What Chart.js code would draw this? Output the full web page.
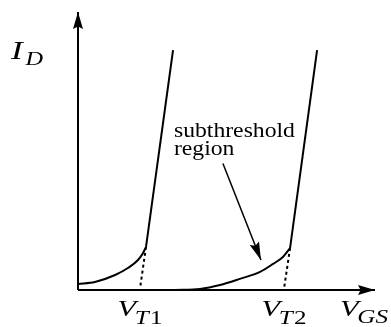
<!DOCTYPE html>
<html>
<head>
<meta charset="utf-8">
<script src="https://cdn.jsdelivr.net/npm/chart.js@4.4.1/dist/chart.umd.min.js"></script>
<style>
  html, body { margin: 0; padding: 0; background: #fff; }
  #wrap { width: 391px; height: 327px; }
</style>
</head>
<body>
<div id="wrap"><canvas id="c" width="391" height="327"></canvas></div>
<script>
// I_D versus V_GS for two devices with different thresholds (arbitrary units)

// Device 1: exponential subthreshold tail, then the steep above-threshold branch
const subthreshold1 = [
  {x: 0.00, y: 0.22}, {x: 0.57, y: 0.29}, {x: 1.25, y: 0.54}, {x: 1.68, y: 0.79},
  {x: 2.02, y: 1.08}, {x: 2.19, y: 1.33}, {x: 2.29, y: 1.55}
];
const aboveThreshold1 = [{x: 2.29, y: 1.55}, {x: 3.20, y: 8.63}];

// Device 2
const subthreshold2 = [
  {x: 3.27, y: 0.00}, {x: 4.11, y: 0.04}, {x: 4.78, y: 0.18}, {x: 5.45, y: 0.40},
  {x: 6.13, y: 0.65}, {x: 6.57, y: 0.94}, {x: 6.90, y: 1.19}, {x: 7.14, y: 1.51}
];
const aboveThreshold2 = [{x: 7.14, y: 1.51}, {x: 8.05, y: 8.63}];

// Threshold voltages: where the extrapolated linear branch meets the axis
const thresholds = [2.09, 6.94];
const thresholdSubs = ['1', '2'];
const extrapolation1 = [{x: 2.29, y: 1.55}, {x: thresholds[0], y: 0.07}];
const extrapolation2 = [{x: 7.14, y: 1.51}, {x: thresholds[1], y: 0.07}];

// Annotation pointer into the subthreshold tail of device 2
const pointer = [{x: 4.88, y: 4.55}, {x: 6.16, y: 1.08}];
const annotationLines = ['subthreshold', 'region'];

// Axes
const xAxisLine = [{x: 0, y: 0}, {x: 10, y: 0}];
const yAxisLine = [{x: 0, y: 0}, {x: 0, y: 10}];

const SERIF = '"Liberation Serif", "Times New Roman", Tinos, Times, serif';

function lineDS(data, extra) {
  return Object.assign({
    data: data,
    showLine: true,
    borderColor: '#000',
    backgroundColor: '#000',
    borderWidth: 2,
    pointRadius: 0,
    pointHoverRadius: 0,
    fill: false,
    clip: false,
    tension: 0
  }, extra || {});
}

// Filled arrowheads at the last point of datasets flagged with arrowHead
const arrowHeads = {
  id: 'arrowHeads',
  afterDatasetsDraw(chart) {
    const ctx = chart.ctx;
    chart.data.datasets.forEach((ds, i) => {
      if (!ds.arrowHead) return;
      const pts = chart.getDatasetMeta(i).data;
      const a = pts[pts.length - 2], b = pts[pts.length - 1];
      const ang = Math.atan2(b.y - a.y, b.x - a.x);
      const L = ds.arrowHead.length, W = ds.arrowHead.width / 2;
      ctx.save();
      ctx.translate(b.x, b.y);
      ctx.rotate(ang);
      ctx.beginPath();
      ctx.moveTo(0, 0);
      ctx.lineTo(-L, -W);
      ctx.lineTo(-L * 0.85, 0);
      ctx.lineTo(-L, W);
      ctx.closePath();
      ctx.fillStyle = '#000';
      ctx.fill();
      ctx.restore();
    });
  }
};

function setFont(ctx, p) {
  ctx.font = (p.italic ? 'italic ' : '') + p.size + 'px ' + SERIF;
}
// Natural width of a symbol with its subscript parts
function mathWidth(ctx, parts) {
  let w = 0;
  parts.forEach(p => { setFont(ctx, p); w += ctx.measureText(p.t).width + (p.gap || 0); });
  return w;
}
// Draws symbol + subscripts starting at x, baseline y, fitted to the given width
function drawMath(ctx, parts, x, y, width) {
  const sx = width / mathWidth(ctx, parts);
  ctx.save();
  ctx.translate(x, y);
  ctx.scale(sx, 1);
  let cx = 0;
  parts.forEach(p => {
    setFont(ctx, p);
    cx += (p.gap || 0);
    ctx.fillText(p.t, cx, p.dy || 0);
    cx += ctx.measureText(p.t).width;
  });
  ctx.restore();
}

const labels = {
  id: 'labels',
  afterDraw(chart) {
    const ctx = chart.ctx;
    const xs = chart.scales.x, ys = chart.scales.y;
    ctx.save();
    ctx.fillStyle = '#000';
    ctx.textBaseline = 'alphabetic';
    ctx.textAlign = 'left';

    // y-axis title I_D
    drawMath(ctx, [
      {t: 'I', size: 26, italic: true},
      {t: 'D', size: 18, italic: true, dy: 6, gap: 2}
    ], 11, 59, 32);

    // threshold labels V_T1, V_T2 centred under the extrapolation feet
    thresholds.forEach((v, i) => {
      const parts = [
        {t: 'V', size: 23, italic: true},
        {t: 'T', size: 19, italic: true, dy: 8, gap: -1},
        {t: thresholdSubs[i], size: 19, italic: false, dy: 8, gap: 1}
      ];
      drawMath(ctx, parts, xs.getPixelForValue(v) - 22.5, 316, 45);
    });

    // x-axis title V_GS
    drawMath(ctx, [
      {t: 'V', size: 23, italic: true},
      {t: 'GS', size: 19, italic: true, dy: 7, gap: -1}
    ], 340, 316, 48);

    // annotation text above the pointer
    const tx = xs.getPixelForValue(pointer[0].x) - 49;
    const ty = ys.getPixelForValue(pointer[0].y);
    ctx.font = '22px ' + SERIF;
    const sx = 121 / ctx.measureText(annotationLines[0]).width;
    annotationLines.forEach((s, k) => {
      ctx.save();
      ctx.translate(tx, ty - 27 + k * 18);
      ctx.scale(sx, 1);
      ctx.fillText(s, 0, 0);
      ctx.restore();
    });
    ctx.restore();
  }
};

function build() {
  new Chart(document.getElementById('c'), {
    type: 'scatter',
    data: {
      datasets: [
        lineDS(xAxisLine, {arrowHead: {length: 17, width: 10}}),
        lineDS(yAxisLine, {arrowHead: {length: 17, width: 10}}),
        lineDS(subthreshold1, {cubicInterpolationMode: 'monotone'}),
        lineDS(aboveThreshold1),
        lineDS(subthreshold2, {cubicInterpolationMode: 'monotone'}),
        lineDS(aboveThreshold2),
        lineDS(extrapolation1, {borderDash: [3, 3]}),
        lineDS(extrapolation2, {borderDash: [3, 3]}),
        lineDS(pointer, {borderWidth: 1.5, arrowHead: {length: 18, width: 10}})
      ]
    },
    options: {
      responsive: false,
      animation: false,
      devicePixelRatio: 1,
      layout: {padding: {left: 78, right: 16, top: 12, bottom: 37}},
      scales: {
        x: {type: 'linear', min: 0, max: 10, display: false},
        y: {type: 'linear', min: 0, max: 10, display: false}
      },
      plugins: {legend: {display: false}, tooltip: {enabled: false}}
    },
    plugins: [arrowHeads, labels]
  });
}

Promise.all([
  document.fonts.load('20px "Liberation Serif"'),
  document.fonts.load('italic 26px "Liberation Serif"')
]).then(build, build);
</script>
</body>
</html>
